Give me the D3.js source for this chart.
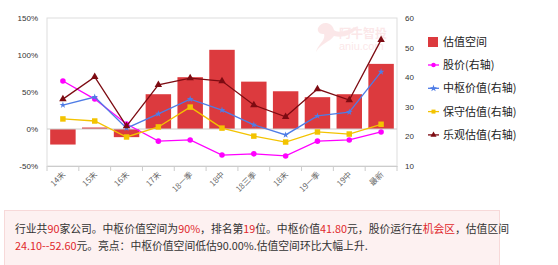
<!DOCTYPE html>
<html>
<head>
<meta charset="utf-8">
<script src="https://cdn.jsdelivr.net/npm/d3@7"></script>
<style>
body { margin:0; background:#fff; font-family:"Microsoft YaHei","Noto Sans CJK SC",sans-serif; }
.note { position:absolute; left:4px; top:210px; width:496px; height:60px; background:#fdf1f1; border:1px solid #f7d9d9;
  font-size:10.8px; color:#333; line-height:17px; padding:9px 0 0 10px; box-sizing:border-box; white-space:nowrap; }
.note b { font-weight:normal; color:#e0282c; }
</style>
</head>
<body>
<div class="chart"></div>
<div class="note">行业共<b>90</b>家公司。中枢价值空间为<b>90%</b>，排名第<b>19</b>位。中枢价值<b>41.80</b>元，股价运行在<b>机会区</b>，估值区间<br><b>24.10--52.60</b>元。亮点：中枢价值空间低估90.00%.估值空间环比大幅上升.</div>
<script>
let categories = ['14末','15末','16末','17末','18一季','18中','18三季','18末','19一季','19中','最新'];
let space   = [-21, 2, -11, 47, 70, 107, 64, 51, 43, 47, 88];
let price   = [38.7, 32.6, 24.2, 18.4, 18.8, 13.7, 14.1, 13.4, 18.4, 18.8, 21.5];
let central = [30.6, 33.3, 22.8, 27.6, 32.6, 28.9, 23.9, 20.5, 26.9, 28.2, 41.8];
let conserv = [25.9, 25.2, 19.8, 23.2, 29.9, 22.8, 20.1, 18.1, 21.5, 20.8, 24.1];
let optim   = [32.6, 40.1, 23.5, 37.4, 39.7, 38.7, 30.6, 26.6, 36.0, 32.3, 52.6];
let leftTicks  = [-50, 0, 50, 100, 150];
let rightTicks = [10, 20, 30, 40, 50, 60];

let width = 558;
let pl = 47, pr = 397, pt = 18, pb = 166;

let svg = d3.select('.chart').append('svg')
  .attr('width', width).attr('height', 205)
  .style('position','absolute').style('left',0).style('top',0);

let x = d3.scaleBand().domain(categories).range([pl, pr]).paddingInner(0.2).paddingOuter(0.1);
let xc = d => x(d) + x.bandwidth()/2;
let band = d3.scaleBand().domain(categories).range([pl, pr]);
let yL = d3.scaleLinear().domain([-50, 150]).range([pb, pt]);
let yR = d3.scaleLinear().domain([10, 60]).range([pb, pt]);

// watermark
let wm = svg.append('g').attr('opacity', 0.25);
wm.append('path')
  .attr('d', 'M318,28 C322,20 332,22 334,30 C338,34 350,30 358,26 C352,36 342,38 334,36 C330,42 320,44 316,52 C318,44 326,40 324,34 C320,34 317,32 318,28 Z')
  .attr('fill', '#f3a3a8');
wm.append('text').attr('x', 339).attr('y', 38).text('阿牛智投')
  .attr('font-size', 12).attr('font-weight', 'bold').attr('fill', '#f3a3a8');
wm.append('text').attr('x', 339).attr('y', 50).text('aniu.com')
  .attr('font-size', 11).attr('fill', '#f3a3a8').attr('font-family', 'Arial, sans-serif');

// frame
svg.append('rect').attr('x', pl).attr('y', pt).attr('width', pr-pl).attr('height', pb-pt)
  .attr('fill', 'none').attr('stroke', '#ddd');

// left axis labels
svg.append('g').selectAll('text').data(leftTicks).join('text')
  .attr('x', 38).attr('y', d => yL(d) + 3).attr('text-anchor', 'end')
  .attr('font-size', 8).attr('fill', '#333').attr('font-family', 'Arial, sans-serif')
  .text(d => d + '%');

// right axis labels
svg.append('g').selectAll('text').data(rightTicks).join('text')
  .attr('x', 405).attr('y', d => yR(d) + 3)
  .attr('font-size', 8).attr('fill', '#333').attr('font-family', 'Arial, sans-serif')
  .text(d => d);

// bottom axis
let xa = svg.append('g').attr('transform', `translate(0,${pb})`)
  .call(d3.axisBottom(band).tickSize(0).tickFormat(''));
xa.select('.domain').attr('stroke', '#ccc');
svg.append('g').selectAll('line').data(d3.range(categories.length + 1)).join('line')
  .attr('x1', i => pl + i*band.step()).attr('x2', i => pl + i*band.step())
  .attr('y1', pb).attr('y2', pb + 5).attr('stroke', '#ccc');
svg.append('g').selectAll('text').data(categories).join('text')
  .attr('transform', d => `translate(${xc(d)+3},${pb+9}) rotate(-45)`)
  .attr('text-anchor', 'end').attr('font-size', 8).attr('fill', '#666')
  .text(d => d);

// bars
svg.append('g').selectAll('rect').data(space).join('rect')
  .attr('x', (d, i) => x(categories[i]))
  .attr('width', x.bandwidth())
  .attr('y', d => yL(Math.max(0, d)))
  .attr('height', d => Math.abs(yL(d) - yL(0)))
  .attr('fill', '#dc3a3e');

// zero line
svg.append('line').attr('x1', pl).attr('x2', pr).attr('y1', yL(0)).attr('y2', yL(0))
  .attr('stroke', '#ccc');

let series = [
  {name:'股价(右轴)', values:price, color:'#f0f', shape:'circle'},
  {name:'中枢价值(右轴)', values:central, color:'#4e7ce6', shape:'star'},
  {name:'保守估值(右轴)', values:conserv, color:'#f3c300', shape:'square'},
  {name:'乐观估值(右轴)', values:optim, color:'#7d0b12', shape:'triangle'}
];
let symbols = {circle:d3.symbolCircle, star:d3.symbolStar, square:d3.symbolSquare, triangle:d3.symbolTriangle};
let sizes = {circle:24, star:14, square:30, triangle:24};

let line = d3.line().x((d, i) => xc(categories[i])).y(d => yR(d));

series.forEach(s => {
  svg.append('path').datum(s.values).attr('d', line)
    .attr('fill', 'none').attr('stroke', s.color).attr('stroke-width', 1.3);
  svg.append('g').selectAll('path').data(s.values).join('path')
    .attr('transform', (d, i) => `translate(${xc(categories[i])},${yR(d)})`)
    .attr('d', d3.symbol().type(symbols[s.shape]).size(sizes[s.shape]))
    .attr('fill', s.color);
});

// legend
let lg = svg.append('g');
lg.append('rect').attr('x', 428).attr('y', 37).attr('width', 10).attr('height', 10).attr('fill', '#dc3a3e');
lg.append('text').attr('x', 443).attr('y', 46).text('估值空间')
  .attr('font-size', 11).attr('fill', '#222');
series.forEach((s, i) => {
  let cy = 65 + i*23.3;
  lg.append('line').attr('x1', 428).attr('x2', 439).attr('y1', cy).attr('y2', cy)
    .attr('stroke', s.color).attr('stroke-width', 1.3);
  lg.append('path').attr('transform', `translate(433.5,${cy})`)
    .attr('d', d3.symbol().type(symbols[s.shape]).size(16)).attr('fill', s.color);
  lg.append('text').attr('x', 443).attr('y', cy + 4).text(s.name)
    .attr('font-size', 11).attr('fill', '#222');
});
</script>
</body>
</html>
